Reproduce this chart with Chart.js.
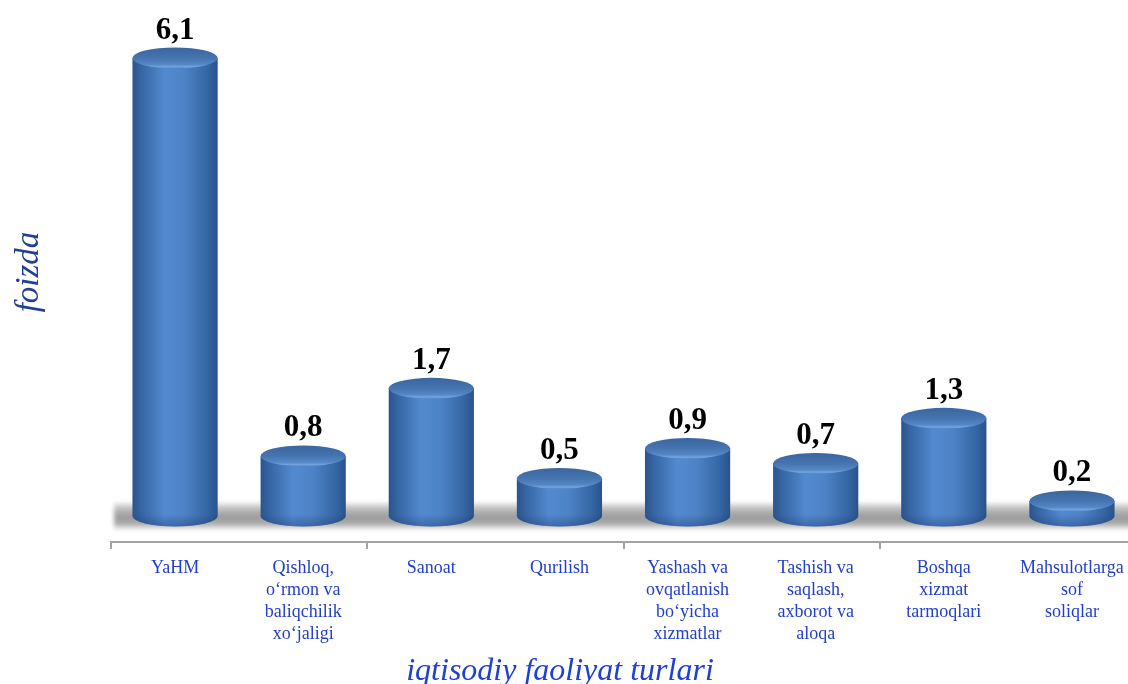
<!DOCTYPE html>
<html><head><meta charset="utf-8">
<script src="https://cdn.jsdelivr.net/npm/chart.js@4.4.1/dist/chart.umd.min.js"></script>
<style>
html,body{margin:0;padding:0;background:#fff;overflow:hidden;width:1128px;height:684px}
#wrap{position:absolute;left:0;top:0;width:1136px;height:690px}
</style>
</head><body><div id="wrap"><canvas id="c"></canvas></div>
<script>
const categories = [
  ["YaHM"],
  ["Qishloq,","o‘rmon va","baliqchilik","xo‘jaligi"],
  ["Sanoat"],
  ["Qurilish"],
  ["Yashash va","ovqatlanish","bo‘yicha","xizmatlar"],
  ["Tashish va","saqlash,","axborot va","aloqa"],
  ["Boshqa","xizmat","tarmoqlari"],
  ["Mahsulotlarga","sof","soliqlar"]
];
const values = [6.1, 0.8, 1.7, 0.5, 0.9, 0.7, 1.3, 0.2];
const valueLabels = ["6,1","0,8","1,7","0,5","0,9","0,7","1,3","0,2"];
const xTitle = "iqtisodiy faoliyat turlari";
const yTitle = "foizda";

const RY = 10.5;
const SERIF = '"Liberation Serif", "Times New Roman", serif';

function drawCylinder(ctx, x, yTop, yBase, w) {
  const rx = w / 2, l = x - rx, r = x + rx;
  const g = ctx.createLinearGradient(l, 0, r, 0);
  g.addColorStop(0, '#2a548d');
  g.addColorStop(0.1, '#3565a3');
  g.addColorStop(0.38, '#538acf');
  g.addColorStop(0.6, '#4e84c7');
  g.addColorStop(0.88, '#3566a4');
  g.addColorStop(1, '#29528b');
  ctx.save();
  ctx.fillStyle = g;
  ctx.beginPath();
  ctx.moveTo(l, yTop);
  ctx.lineTo(l, yBase);
  ctx.ellipse(x, yBase, rx, RY, 0, Math.PI, 0, true);
  ctx.lineTo(r, yTop);
  ctx.closePath();
  ctx.fill();
  // bottom bevel darkening
  const gb = ctx.createLinearGradient(0, yBase - 2, 0, yBase + RY);
  gb.addColorStop(0, 'rgba(20,45,90,0)');
  gb.addColorStop(1, 'rgba(20,45,90,0.35)');
  ctx.fillStyle = gb;
  ctx.beginPath();
  ctx.moveTo(l, Math.max(yTop, yBase - 2));
  ctx.lineTo(l, yBase);
  ctx.ellipse(x, yBase, rx, RY, 0, Math.PI, 0, true);
  ctx.lineTo(r, Math.max(yTop, yBase - 2));
  ctx.closePath();
  ctx.fill();
  // top face
  const gt = ctx.createLinearGradient(0, yTop - RY, 0, yTop + RY);
  gt.addColorStop(0, '#3b669f');
  gt.addColorStop(0.5, '#4574b0');
  gt.addColorStop(0.8, '#5587c6');
  gt.addColorStop(0.92, '#74a4df');
  gt.addColorStop(1, '#4f83c4');
  ctx.fillStyle = gt;
  ctx.beginPath();
  ctx.ellipse(x, yTop, rx, RY, 0, 0, Math.PI * 2);
  ctx.fill();
  ctx.restore();
}

const cylinderPlugin = {
  id: 'cyl',
  beforeDatasetsDraw(chart) {
    const ctx = chart.ctx, a = chart.chartArea;
    const base = chart.scales.y.getPixelForValue(0);
    const g = ctx.createLinearGradient(0, base - 14, 0, base + 15);
    g.addColorStop(0, 'rgba(225,225,225,0.6)');
    g.addColorStop(0.2, '#c4c4c4');
    g.addColorStop(0.5, '#9c9c9c');
    g.addColorStop(0.75, '#a8a8a8');
    g.addColorStop(1, 'rgba(230,230,230,0.3)');
    ctx.save();
    ctx.filter = 'blur(2px)';
    ctx.fillStyle = g;
    ctx.fillRect(a.left + 3, base - 13, a.right - a.left + 30, 27);
    ctx.restore();
  },
  afterDatasetsDraw(chart) {
    const ctx = chart.ctx;
    const meta = chart.getDatasetMeta(0);
    meta.data.forEach((bar) => {
      const p = bar.getProps(['x', 'y', 'base', 'width'], true);
      drawCylinder(ctx, p.x, p.y, p.base, p.width);
    });
    ctx.save();
    ctx.fillStyle = '#000';
    ctx.font = 'bold 31px ' + SERIF;
    ctx.textAlign = 'center';
    ctx.textBaseline = 'alphabetic';
    meta.data.forEach((bar, i) => {
      const p = bar.getProps(['x', 'y'], true);
      ctx.fillText(valueLabels[i], p.x, p.y - RY - 9);
    });
    ctx.restore();
  },
  afterDraw(chart) {
    const ctx = chart.ctx, a = chart.chartArea, xs = chart.scales.x;
    const y = Math.round(a.bottom + 26);
    const cw = xs.getPixelForValue(1) - xs.getPixelForValue(0);
    ctx.save();
    ctx.strokeStyle = '#a3a3a3';
    ctx.lineWidth = 2;
    ctx.beginPath();
    ctx.moveTo(a.left - 1, y);
    ctx.lineTo(chart.width, y);
    for (let i = 0; i < categories.length; i += 2) {
      const tx = Math.round(xs.getPixelForValue(i) - cw / 2);
      ctx.moveTo(tx, y);
      ctx.lineTo(tx, y + 7);
    }
    ctx.stroke();
    // x-axis title (centred on the visible page as in the reference)
    ctx.fillStyle = '#1f40d0';
    ctx.font = 'italic 32px ' + SERIF;
    ctx.textAlign = 'center';
    ctx.textBaseline = 'alphabetic';
    ctx.fillText(xTitle, 560, 680);
    ctx.restore();
  }
};

new Chart(document.getElementById('c'), {
  type: 'bar',
  data: {
    labels: categories,
    datasets: [{
      data: values,
      backgroundColor: 'rgba(0,0,0,0)',
      borderWidth: 0,
      categoryPercentage: 1,
      barPercentage: 0.665
    }]
  },
  options: {
    responsive: true,
    maintainAspectRatio: false,
    animation: false,
    layout: { padding: { top: 28, left: 0, right: 0, bottom: 0 } },
    plugins: { legend: { display: false }, tooltip: { enabled: false } },
    scales: {
      x: {
        grid: { display: false, drawTicks: true, tickLength: 41.6 },
        border: { display: false },
        ticks: {
          padding: 0,
          autoSkip: false,
          maxRotation: 0,
          minRotation: 0,
          color: '#2141c8',
          font: { family: SERIF, size: 18, lineHeight: 1.22 }
        },
        title: {
          display: true,
          text: xTitle,
          color: 'rgba(0,0,0,0)',
          padding: { top: 6.2, bottom: 0 },
          font: { family: SERIF, size: 32, style: 'italic', lineHeight: 1.2 }
        }
      },
      y: {
        min: 0,
        max: 6.5,
        grid: { display: false, drawTicks: false },
        border: { display: false },
        ticks: { display: false },
        title: {
          display: true,
          text: yTitle,
          color: '#223f96',
          padding: { top: 10, bottom: 61.4 },
          font: { family: SERIF, size: 33, style: 'italic', lineHeight: 1.2 }
        }
      }
    }
  },
  plugins: [cylinderPlugin]
});
</script>
</body></html>
